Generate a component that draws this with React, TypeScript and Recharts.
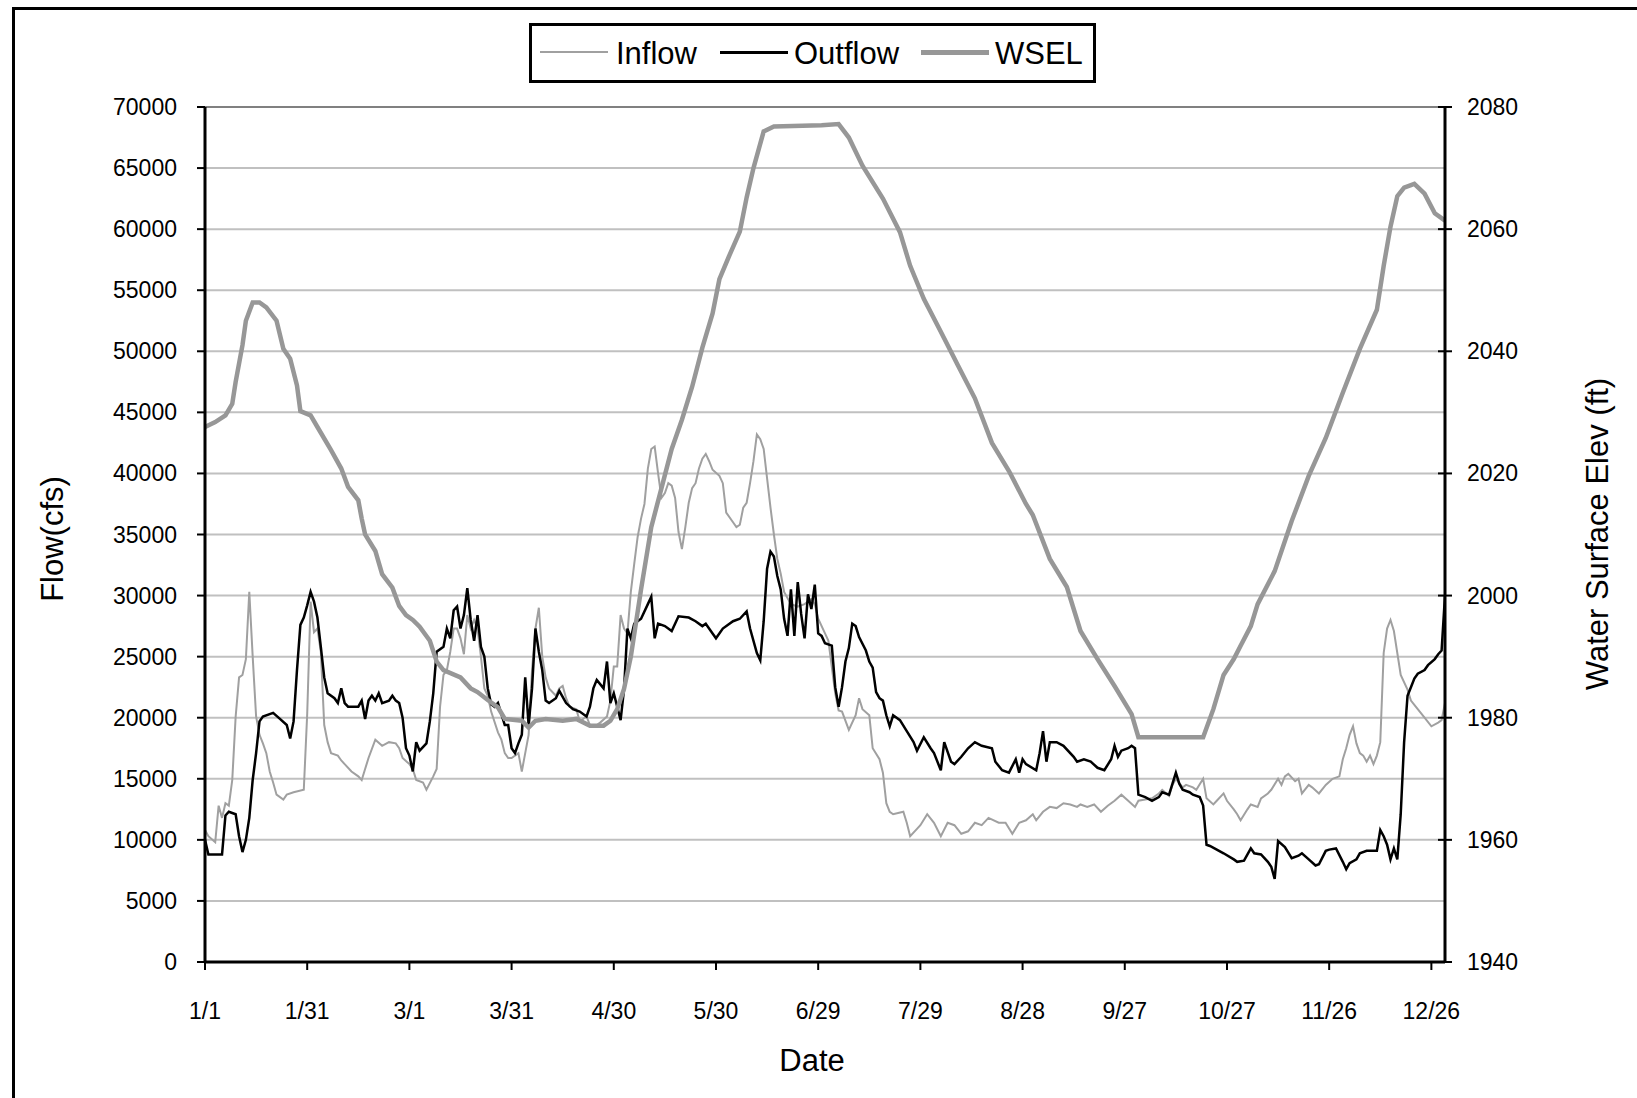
import React from 'react';
import { LineChart, Line, XAxis, YAxis, CartesianGrid, ReferenceLine } from 'recharts';

// ---- categories / ticks ----
const dateLabels = ['1/1', '1/31', '3/1', '3/31', '4/30', '5/30', '6/29', '7/29', '8/28', '9/27', '10/27', '11/26', '12/26'];
const dateTicks = [0, 30, 60, 90, 120, 150, 180, 210, 240, 270, 300, 330, 360];
const flowTicks = [0, 5000, 10000, 15000, 20000, 25000, 30000, 35000, 40000, 45000, 50000, 55000, 60000, 65000, 70000];
const elevTicks = [1940, 1960, 1980, 2000, 2020, 2040, 2060, 2080];

// ---- series: [day of year (0 = 1/1), value] ----
const inflow: [number, number][] = [
  [0, 10800], [1, 10300], [3, 9800], [4, 12800], [5, 11800], [6, 13000], [7, 12800], [8, 14900], [9, 20100],
  [10, 23300], [11, 23500], [12, 24800], [13, 30300], [14, 25000], [15, 20100], [16, 18600], [17, 17900],
  [18, 17100], [19, 15600], [20, 14700], [21, 13700], [23, 13300], [24, 13700], [26, 13900], [29, 14100],
  [30, 20300], [31, 29500], [32, 27000], [33, 27300], [34, 25400], [35, 19400], [36, 18000], [37, 17100],
  [39, 16900], [40, 16500], [41, 16200], [43, 15600], [45, 15200], [46, 14900], [47, 15800], [48, 16700],
  [50, 18200], [52, 17700], [54, 18000], [56, 17900], [57, 17500], [58, 16700], [60, 16200], [61, 15800],
  [62, 14900], [64, 14700], [65, 14100], [67, 15200], [68, 15800], [69, 20900], [70, 23500], [71, 23900],
  [72, 25400], [73, 27300], [74, 27300], [75, 26500], [76, 25200], [77, 28400], [78, 27300], [79, 28000],
  [80, 27300], [81, 25000], [82, 22400], [83, 21800], [84, 20500], [86, 18800], [87, 18200], [88, 17100],
  [89, 16700], [90, 16700], [92, 17100], [93, 15600], [94, 17100], [95, 18600], [96, 23900], [97, 27300],
  [98, 29000], [99, 25000], [100, 23300], [101, 22400], [103, 21800], [104, 22400], [105, 22600], [106, 21600],
  [107, 20900], [109, 20700], [110, 19700], [112, 20100], [113, 19400], [115, 19400], [116, 19600], [118, 20100],
  [119, 21400], [120, 24200], [121, 24200], [122, 28400], [123, 27300], [124, 26900], [125, 30300], [126, 32600],
  [127, 34800], [128, 36300], [129, 37500], [130, 40400], [131, 42000], [132, 42200], [133, 40000], [134, 38000],
  [135, 38400], [136, 39200], [137, 39000], [138, 38000], [139, 35200], [140, 33800], [141, 35600], [142, 37600],
  [143, 38800], [144, 39200], [145, 40400], [146, 41200], [147, 41600], [148, 41000], [149, 40300], [151, 39800],
  [152, 39200], [153, 36800], [155, 36000], [156, 35600], [157, 35800], [158, 37200], [159, 37600], [160, 39200],
  [161, 41000], [162, 43200], [163, 42800], [164, 42000], [165, 39600], [166, 37200], [167, 35000], [168, 33000],
  [169, 31800], [170, 30300], [172, 29300], [174, 29100], [176, 29300], [178, 29700], [179, 29300], [180, 28100],
  [182, 26900], [183, 26300], [185, 22000], [186, 20600], [187, 20500], [189, 19000], [191, 20200], [192, 21600],
  [193, 20700], [195, 20200], [196, 17500], [198, 16600], [199, 15500], [200, 13000], [201, 12300], [202, 12100],
  [205, 12300], [206, 11400], [207, 10300], [209, 10900], [210, 11200], [212, 12100], [214, 11400], [216, 10300],
  [218, 11400], [220, 11200], [222, 10500], [224, 10700], [226, 11400], [228, 11200], [230, 11800], [233, 11400],
  [235, 11400], [237, 10500], [239, 11400], [241, 11600], [243, 12100], [244, 11600], [246, 12300], [248, 12700],
  [250, 12600], [252, 13000], [254, 12900], [256, 12700], [257, 12900], [259, 12700], [261, 12900], [263, 12300],
  [265, 12800], [267, 13200], [269, 13700], [271, 13200], [273, 12700], [274, 13200], [276, 13300], [278, 13400],
  [280, 13800], [281, 14100], [283, 13600], [284, 14500], [285, 15000], [287, 14300], [288, 14500], [290, 14300],
  [291, 14100], [293, 15000], [294, 13400], [296, 12900], [297, 13200], [299, 13800], [300, 13200], [302, 12500],
  [303, 12100], [304, 11600], [306, 12500], [307, 12900], [309, 12700], [310, 13400], [312, 13800], [313, 14100],
  [315, 15000], [316, 14500], [317, 15200], [318, 15400], [320, 14800], [321, 15000], [322, 13800], [324, 14500],
  [325, 14300], [327, 13800], [329, 14500], [331, 15000], [333, 15200], [334, 16600], [335, 17500], [336, 18600],
  [337, 19300], [338, 17900], [339, 17100], [340, 16900], [341, 16400], [342, 16900], [343, 16200], [344, 16900],
  [345, 18000], [346, 25300], [347, 27300], [348, 28000], [349, 27100], [350, 25300], [351, 23500], [353, 22300],
  [354, 21400], [356, 20700], [358, 20000], [360, 19300], [362, 19600], [363, 19800], [364, 21200],
];

const outflow: [number, number][] = [
  [0, 10000], [1, 8800], [5, 8800], [6, 12000], [7, 12300], [9, 12100], [10, 10300], [11, 9000], [12, 10000],
  [13, 11800], [14, 14900], [15, 17100], [16, 19700], [17, 20100], [20, 20400], [22, 19900], [24, 19400],
  [25, 18300], [26, 19700], [27, 23900], [28, 27600], [29, 28200], [30, 29200], [31, 30300], [32, 29500],
  [33, 28200], [34, 25800], [35, 23300], [36, 22000], [38, 21600], [39, 21200], [40, 22400], [41, 21200],
  [42, 20900], [45, 20900], [46, 21400], [47, 19900], [48, 21400], [49, 21800], [50, 21400], [51, 22000],
  [52, 21200], [54, 21400], [55, 21800], [56, 21400], [57, 21200], [58, 20000], [59, 17500], [60, 16900],
  [61, 15600], [62, 18000], [63, 17300], [65, 17900], [66, 19700], [67, 22000], [68, 25400], [70, 25800],
  [71, 27300], [72, 26500], [73, 28800], [74, 29100], [75, 27300], [76, 28400], [77, 30600], [78, 28000],
  [79, 26300], [80, 28400], [81, 25800], [82, 25000], [83, 22400], [84, 21100], [85, 20900], [86, 21200],
  [88, 19400], [89, 19400], [90, 17500], [91, 17100], [92, 17900], [93, 18600], [94, 23300], [95, 19400],
  [96, 22400], [97, 27300], [98, 25400], [99, 23900], [100, 21400], [101, 21200], [103, 21600], [104, 22200],
  [106, 21200], [108, 20700], [110, 20500], [112, 20100], [113, 20900], [114, 22400], [115, 23100], [117, 22400],
  [118, 24600], [119, 21200], [120, 22000], [122, 19800], [123, 22300], [124, 27300], [125, 26500], [126, 27700],
  [128, 28100], [130, 29300], [131, 29900], [132, 26500], [133, 27700], [135, 27500], [137, 27100], [139, 28300],
  [142, 28200], [144, 27900], [146, 27500], [147, 27700], [149, 26900], [150, 26500], [152, 27300], [155, 27900],
  [157, 28100], [159, 28700], [160, 27300], [162, 25300], [163, 24700], [164, 27900], [165, 32200], [166, 33600],
  [167, 33200], [168, 31600], [169, 30500], [170, 28100], [171, 26700], [172, 30500], [173, 26700], [174, 31100],
  [175, 28500], [176, 26500], [177, 30100], [178, 28900], [179, 30900], [180, 26900], [181, 26700], [182, 26100],
  [184, 25900], [185, 22500], [186, 20900], [187, 22500], [188, 24600], [189, 25700], [190, 27700], [191, 27500],
  [192, 26600], [194, 25500], [195, 24600], [196, 24100], [197, 22100], [198, 21600], [199, 21400], [200, 20200],
  [201, 19300], [202, 20200], [204, 19800], [206, 18900], [208, 18000], [209, 17300], [211, 18400], [213, 17500],
  [214, 17100], [216, 15700], [217, 18000], [219, 16400], [220, 16200], [222, 16800], [224, 17500], [226, 18000],
  [228, 17700], [231, 17500], [232, 16400], [234, 15700], [236, 15500], [238, 16600], [239, 15500], [240, 16600],
  [241, 16200], [244, 15700], [245, 17100], [246, 18900], [247, 16400], [248, 18000], [250, 18000], [252, 17700],
  [255, 16800], [256, 16400], [258, 16600], [260, 16400], [262, 15900], [264, 15700], [266, 16600], [267, 17700],
  [268, 16800], [269, 17300], [271, 17500], [272, 17700], [273, 17500], [274, 13700], [276, 13500], [278, 13200],
  [280, 13500], [281, 13900], [283, 13700], [284, 14600], [285, 15500], [286, 14600], [287, 14100], [289, 13900],
  [290, 13700], [292, 13500], [293, 12800], [294, 9600], [295, 9500], [297, 9200], [299, 8900], [302, 8400],
  [303, 8200], [305, 8300], [307, 9300], [308, 8900], [310, 8800], [312, 8200], [313, 7800], [314, 6800],
  [315, 9900], [317, 9400], [319, 8500], [321, 8700], [322, 8900], [324, 8400], [326, 7900], [327, 8000],
  [329, 9100], [330, 9200], [332, 9300], [334, 8200], [335, 7600], [336, 8100], [338, 8400], [339, 8900],
  [341, 9100], [344, 9100], [345, 10800], [346, 10300], [347, 9600], [348, 8400], [349, 9300], [350, 8400],
  [351, 12100], [352, 18000], [353, 21800], [354, 22500], [355, 23200], [356, 23600], [358, 23900], [359, 24300],
  [361, 24800], [362, 25200], [363, 25500], [364, 30000],
];

const wsel: [number, number][] = [
  [0, 2027.6], [3, 2028.4], [6, 2029.5], [8, 2031.4], [9, 2035], [11, 2041], [12, 2045], [14, 2048], [16, 2048],
  [18, 2047.2], [21, 2045], [23, 2040.4], [25, 2038.8], [27, 2034.4], [28, 2030.2], [31, 2029.5], [33, 2027.6],
  [37, 2023.8], [40, 2020.8], [42, 2017.8], [45, 2015.6], [46, 2012.6], [47, 2010], [50, 2007.3], [52, 2003.5],
  [55, 2001.3], [57, 1998.3], [59, 1996.8], [61, 1996], [63, 1994.9], [66, 1992.6], [68, 1989.2], [70, 1987.8],
  [75, 1986.6], [78, 1984.8], [80, 1984.2], [83, 1982.9], [86, 1981.7], [88, 1979.8], [93, 1979.5], [95, 1978.4],
  [97, 1979.5], [100, 1979.8], [105, 1979.5], [109, 1979.8], [113, 1978.7], [117, 1978.7], [119, 1979.5],
  [121, 1981.4], [123, 1984.7], [125, 1990], [128, 2001], [131, 2011.2], [134, 2017.6], [137, 2024], [140, 2028.8],
  [143, 2034.2], [146, 2040.6], [149, 2046.2], [151, 2051.8], [154, 2055.8], [157, 2059.6], [159, 2065.2],
  [161, 2070], [163, 2074], [164, 2076], [167, 2076.8], [181, 2077], [186, 2077.2], [189, 2075], [193, 2070.4],
  [199, 2065], [204, 2059.5], [207, 2054], [211, 2048.6], [216, 2043.2], [221, 2037.7], [226, 2032.3], [231, 2025],
  [236, 2020.4], [241, 2015], [243, 2013.2], [248, 2006], [253, 2001.4], [257, 1994.2], [262, 1989.6], [267, 1985.2],
  [272, 1980.6], [274, 1976.8], [293, 1976.8], [296, 1981.4], [299, 1987], [302, 1989.6], [304, 1991.8], [307, 1995],
  [309, 1998.6], [314, 2004], [319, 2012.2], [324, 2019.6], [329, 2025.8], [334, 2033.2], [339, 2040.4],
  [344, 2046.8], [346, 2054], [348, 2060.4], [350, 2065.4], [352, 2066.8], [355, 2067.4], [358, 2065.8],
  [361, 2062.6], [364, 2061.4],
];

const inflowRows = inflow.map(([day, v]) => ({ day, value: v }));
const outflowRows = outflow.map(([day, v]) => ({ day, value: v }));
const wselRows = wsel.map(([day, v]) => ({ day, value: v }));

const FONT = '"Liberation Sans", Arial, Helvetica, sans-serif';
const INFLOW_COLOR = '#a0a0a0';
const WSEL_COLOR = '#979797';

function FlowTick(props: any) {
  const { x, y, payload } = props;
  return (
    <text x={x} y={y} dy={8} textAnchor="end" fontFamily={FONT} fontSize={23} fill="#000">
      {payload.value}
    </text>
  );
}

function ElevTick(props: any) {
  const { x, y, payload } = props;
  return (
    <g>
      <line x1={x - 29} x2={x - 15} y1={y} y2={y} stroke="#000" strokeWidth={2} />
      <text x={x} y={y} dy={8} textAnchor="start" fontFamily={FONT} fontSize={23} fill="#000">
        {payload.value}
      </text>
    </g>
  );
}

function DateTick(props: any) {
  const { x, y, payload } = props;
  const idx = dateTicks.indexOf(payload.value);
  return (
    <text x={x} y={y} dy={49} textAnchor="middle" fontFamily={FONT} fontSize={23} fill="#000">
      {idx >= 0 ? dateLabels[idx] : ''}
    </text>
  );
}

const titleStyle: React.CSSProperties = {
  position: 'absolute',
  fontFamily: FONT,
  fontSize: 31,
  lineHeight: 1,
  whiteSpace: 'nowrap',
  color: '#000',
};

function LegendBox() {
  const item = (left: number, color: string, width: number, label: string, textLeft: number) => (
    <>
      <div style={{ position: 'absolute', left, top: 26, width: 68, height: 0, borderTop: `${width}px solid ${color}`, marginTop: -width / 2 }} />
      <div style={{ ...titleStyle, left: textLeft, top: 12 }}>{label}</div>
    </>
  );
  return (
    <div
      style={{
        position: 'absolute',
        left: 529,
        top: 23,
        width: 561,
        height: 54,
        border: '3px solid #000',
        background: '#fff',
      }}
    >
      {item(8, INFLOW_COLOR, 2, 'Inflow', 84)}
      {item(188, '#000', 3, 'Outflow', 262)}
      {item(389, WSEL_COLOR, 5, 'WSEL', 463)}
    </div>
  );
}

export default function App() {
  return (
    <div style={{ position: 'absolute', left: 0, top: 0, width: 1637, height: 1098, overflow: 'hidden', background: '#fff' }}>
      <div style={{ position: 'absolute', left: 12, top: 7, width: 1700, height: 1200, border: '3px solid #000' }} />
      <div style={{ position: 'absolute', left: 0, top: 0 }}>
        <LineChart width={1637} height={1098} margin={{ top: 107, right: 0, bottom: 76, left: 0 }}>
          <CartesianGrid yAxisId="flow" vertical={false} stroke="#c0c0c0" strokeWidth={2} />
          <XAxis
            dataKey="day"
            type="number"
            domain={[0, 364]}
            ticks={dateTicks}
            interval={0}
            height={60}
            tickSize={8}
            tickMargin={0}
            tick={<DateTick />}
            axisLine={{ stroke: '#000', strokeWidth: 3 }}
            tickLine={{ stroke: '#000', strokeWidth: 2 }}
            allowDataOverflow
          />
          <YAxis
            yAxisId="flow"
            type="number"
            domain={[0, 70000]}
            ticks={flowTicks}
            interval={0}
            width={205}
            tickSize={8}
            tickMargin={20}
            tick={<FlowTick />}
            axisLine={{ stroke: '#000', strokeWidth: 3 }}
            tickLine={{ stroke: '#000', strokeWidth: 2 }}
            allowDataOverflow
          />
          <YAxis
            yAxisId="wsel"
            orientation="right"
            type="number"
            domain={[1940, 2080]}
            ticks={elevTicks}
            interval={0}
            width={192}
            tickSize={7}
            tickMargin={15}
            tick={<ElevTick />}
            tickLine={false}
            axisLine={{ stroke: '#000', strokeWidth: 3 }}
            allowDataOverflow
          />
          <ReferenceLine yAxisId="flow" y={70000} stroke="#808080" strokeWidth={2} />
          <Line
            yAxisId="flow"
            data={inflowRows}
            dataKey="value"
            name="Inflow"
            type="linear"
            stroke={INFLOW_COLOR}
            strokeWidth={2}
            dot={false}
            activeDot={false}
            isAnimationActive={false}
          />
          <Line
            yAxisId="flow"
            data={outflowRows}
            dataKey="value"
            name="Outflow"
            type="linear"
            stroke="#000"
            strokeWidth={2.5}
            dot={false}
            activeDot={false}
            isAnimationActive={false}
          />
          <Line
            yAxisId="wsel"
            data={wselRows}
            dataKey="value"
            name="WSEL"
            type="linear"
            stroke={WSEL_COLOR}
            strokeWidth={4.5}
            dot={false}
            activeDot={false}
            isAnimationActive={false}
          />
        </LineChart>
      </div>
      <LegendBox />
      <div style={{ ...titleStyle, left: 52, top: 539, transform: 'translate(-50%, -50%) rotate(-90deg)' }}>Flow(cfs)</div>
      <div style={{ ...titleStyle, left: 1597, top: 534, transform: 'translate(-50%, -50%) rotate(-90deg)' }}>
        Water Surface Elev (ft)
      </div>
      <div style={{ ...titleStyle, left: 812, top: 1060, transform: 'translate(-50%, -50%)' }}>Date</div>
    </div>
  );
}
